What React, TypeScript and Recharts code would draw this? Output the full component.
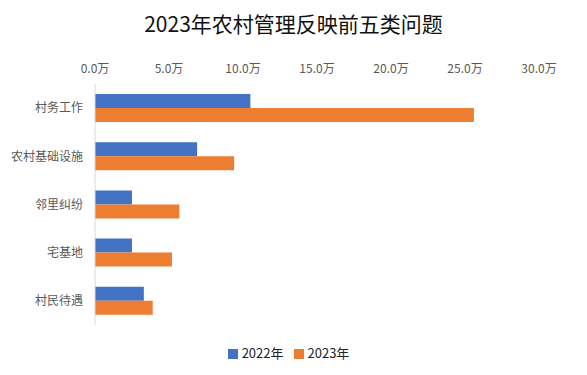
import * as React from 'react';
import { BarChart, Bar, XAxis, YAxis, Legend } from 'recharts';

const categories = ['村务工作', '农村基础设施', '邻里纠纷', '宅基地', '村民待遇'];
const values2022 = [10.5, 6.9, 2.5, 2.5, 3.3];
const values2023 = [25.6, 9.4, 5.7, 5.2, 3.9];
const xTicks = [0, 5, 10, 15, 20, 25, 30];

const FONT = '"Noto Sans CJK SC", "Noto Sans", sans-serif';

const data = categories.map((name, i) => ({
  name,
  y2022: values2022[i],
  y2023: values2023[i],
}));

export default function App() {
  return (
    <div
      style={{
        position: 'absolute',
        left: 0,
        top: 0,
        width: 587,
        height: 375,
        background: '#fff',
        fontFamily: FONT,
      }}
    >
      <div
        style={{
          position: 'absolute',
          top: 8,
          width: 587,
          textAlign: 'center',
          fontSize: 21,
          lineHeight: '30px',
          color: '#111',
        }}
      >
        2023年农村管理反映前五类问题
      </div>
      <BarChart
        width={587}
        height={375}
        data={data}
        layout="vertical"
        margin={{ top: 54, right: 48, bottom: 14, left: 0 }}
        barCategoryGap="40%"
        barGap={0}
      >
        <XAxis
          type="number"
          orientation="top"
          domain={[0, 30]}
          ticks={xTicks}
          tickFormatter={(v) => `${v.toFixed(1)}万`}
          axisLine={false}
          tickLine={false}
          tick={{ fontSize: 12, fill: '#595959', fontFamily: FONT, dy: -3 }}
          height={30}
        />
        <YAxis
          type="category"
          dataKey="name"
          width={95}
          axisLine={{ stroke: '#d9d9d9' }}
          tickLine={false}
          tickMargin={6}
          tick={{ fontSize: 12, fill: '#595959', fontFamily: FONT }}
        />
        <Legend
          verticalAlign="bottom"
          iconType="square"
          iconSize={10}
          height={36}
          formatter={(value) => <span style={{ color: '#222' }}>{value}</span>}
          wrapperStyle={{ fontSize: 13, fontFamily: FONT, top: 343, bottom: 'auto', left: 0, width: 587 }}
        />
        <Bar dataKey="y2022" name="2022年" fill="#4472C4" barSize={14} isAnimationActive={false} />
        <Bar dataKey="y2023" name="2023年" fill="#ED7D31" barSize={14} isAnimationActive={false} />
      </BarChart>
    </div>
  );
}
